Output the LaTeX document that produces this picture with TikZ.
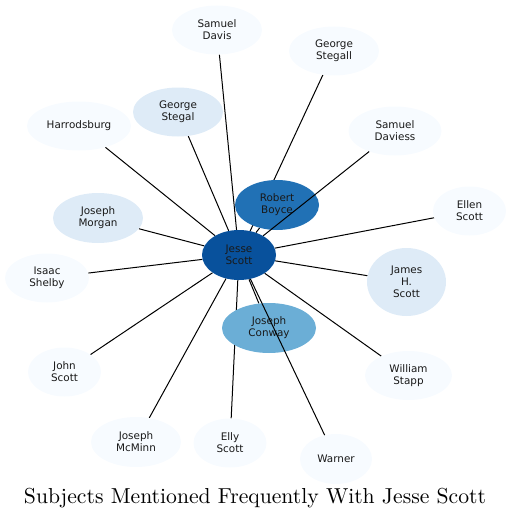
\documentclass[tikz,border=0pt]{standalone}
\usepackage{fontspec}
\newfontfamily\nodefont{DejaVu Sans}
\usetikzlibrary{shapes.geometric}
\pgfdeclarelayer{background}
\pgfsetlayers{background,main}
\definecolor{bA}{HTML}{F7FBFF}
\definecolor{bB}{HTML}{DEEBF7}
\definecolor{bC}{HTML}{6BAED6}
\definecolor{bD}{HTML}{2171B5}
\definecolor{bE}{HTML}{08519C}
\tikzset{
  subj/.style={ellipse, inner sep=0pt, align=center, draw=none,
    font=\nodefont\fontsize{10.4}{12}\selectfont, text=black!90},
  edge/.style={line width=1pt, black},
}
\begin{document}
\begin{tikzpicture}[x=1pt,y=-1pt]
\useasboundingbox (0,0) rectangle (511,519);
\node[subj, fill=bA, minimum width=90, minimum height=49] (sdavis) at (217,30) {Samuel\\Davis};
\node[subj, fill=bA, minimum width=90, minimum height=49] (gstegall) at (334,51) {George\\Stegall};
\node[subj, fill=bB, minimum width=90, minimum height=49] (gstegal) at (178,112) {George\\Stegal};
\node[subj, fill=bA, minimum width=104, minimum height=49] (harr) at (79,126) {Harrodsburg};
\node[subj, fill=bA, minimum width=93, minimum height=49] (sdaviess) at (395,131) {Samuel\\Daviess};
\node[subj, fill=bD, minimum width=84, minimum height=50] (boyce) at (277,205) {Robert\\Boyce};
\node[subj, fill=bA, minimum width=73, minimum height=49] (ellen) at (469.5,211) {Ellen\\Scott};
\node[subj, fill=bB, minimum width=90, minimum height=50] (morgan) at (98,218) {Joseph\\Morgan};
\node[subj, fill=bE, minimum width=74, minimum height=50] (jesse) at (239,255) {Jesse\\Scott};
\node[subj, fill=bA, minimum width=84, minimum height=49] (shelby) at (47,278) {Isaac\\Shelby};
\node[subj, fill=bB, minimum width=79, minimum height=68] (james) at (406.5,282) {James\\H.\\Scott};
\node[subj, fill=bC, minimum width=94, minimum height=50] (conway) at (269,328) {Joseph\\Conway};
\node[subj, fill=bA, minimum width=73, minimum height=49] (john) at (64.5,372) {John\\Scott};
\node[subj, fill=bA, minimum width=87, minimum height=49] (stapp) at (408.5,375.5) {William\\Stapp};
\node[subj, fill=bA, minimum width=90, minimum height=50] (mcminn) at (136,442) {Joseph\\McMinn};
\node[subj, fill=bA, minimum width=73, minimum height=49] (elly) at (230,443) {Elly\\Scott};
\node[subj, fill=bA, minimum width=72, minimum height=50] (warner) at (336,459) {Warner};
\begin{pgfonlayer}{background}
\foreach \t in {sdavis,gstegall,gstegal,harr,boyce,ellen,morgan,shelby,james,conway,john,stapp,mcminn,elly}
  \draw[edge] (jesse) -- (\t);
\end{pgfonlayer}
\draw[edge] (jesse) -- (sdaviess);
\draw[edge] (jesse) -- (warner);
\node[anchor=base, inner sep=0pt] (title) at (255,503) {\resizebox{462pt}{!}{\fontsize{10}{12}\selectfont Subjects Mentioned Frequently With Jesse Scott}};
\end{tikzpicture}
\end{document}
